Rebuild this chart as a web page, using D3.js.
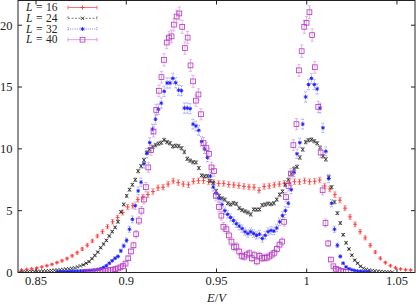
<!DOCTYPE html>
<html><head><meta charset="utf-8">
<script src="https://cdn.jsdelivr.net/npm/d3@7"></script>
<style>body{margin:0;background:#fff}svg{display:block}</style>
</head><body><svg id="c" width="416" height="305"></svg>
<script>
const xTicks = [0.85, 0.9, 0.95, 1, 1.05];
const xTickLabels = ["0.85", "0.9", "0.95", "1", "1.05"];
const yTicks = [0, 5, 10, 15, 20];
const seriesNames = ["L = 16", "L = 24", "L = 32", "L = 40"];

// L = 16
const eL16 = [0.842,0.8448,0.8476,0.8504,0.8532,0.856,0.8588,0.8616,0.8644,0.8672,0.87,0.8728,0.8756,0.8784,0.8812,0.884,0.8868,0.8896,0.8924,0.8952,0.898,0.9008,0.9036,0.9064,0.9092,0.912,0.9148,0.9176,0.9204,0.9232,0.926,0.9288,0.9316,0.9344,0.9372,0.94,0.9428,0.9456,0.9484,0.9512,0.954,0.9568,0.9596,0.9624,0.9652,0.968,0.9708,0.9736,0.9764,0.9792,0.982,0.9848,0.9876,0.9904,0.9932,0.996,0.9988,1.0016,1.0044,1.0072,1.01,1.0128,1.0156,1.0184,1.0212,1.024,1.0268,1.0296,1.0324,1.0352,1.038,1.0408,1.0436,1.0464,1.0492,1.052,1.0548,1.0576];
const vL16 = [0.2,0.25,0.3,0.37,0.45,0.55,0.66,0.8,0.95,1.12,1.35,1.6,1.9,2.2,2.55,2.95,3.3,3.7,4.1,4.45,4.85,5.3,5.4,5.9,6.1,6.3,6.55,6.85,6.9,7.15,7.4,7.27,7.15,7.1,7.38,7.42,7.43,7.35,7.28,7.2,7.2,7.12,7.08,7.03,6.97,6.92,6.9,6.65,6.95,7.0,7.08,7.15,7.22,7.27,7.35,7.33,7.42,7.35,7.38,7.48,7.0,6.75,6.3,5.85,5.2,4.5,3.9,3.3,2.8,2.2,1.65,1.15,0.8,0.55,0.38,0.28,0.22,0.2];
const errL16 = [0.04,0.04,0.05,0.05,0.06,0.06,0.07,0.08,0.09,0.1,0.1,0.11,0.12,0.13,0.14,0.15,0.16,0.17,0.18,0.18,0.2,0.2,0.2,0.2,0.22,0.22,0.22,0.22,0.22,0.22,0.22,0.22,0.22,0.22,0.22,0.22,0.22,0.22,0.22,0.22,0.22,0.22,0.22,0.22,0.22,0.22,0.22,0.22,0.22,0.22,0.22,0.22,0.22,0.22,0.22,0.22,0.22,0.22,0.22,0.22,0.22,0.22,0.22,0.21,0.2,0.2,0.19,0.18,0.17,0.15,0.13,0.11,0.09,0.08,0.06,0.05,0.05,0.04];

// shared energy grid for L = 24 and L = 32
const eGrid = [0.841,0.8426,0.8442,0.8458,0.8474,0.849,0.8506,0.8522,0.8538,0.8554,0.857,0.8586,0.8602,0.8618,0.8634,0.865,0.8666,0.8682,0.8698,0.8714,0.873,0.8746,0.8762,0.8778,0.8794,0.881,0.8826,0.8842,0.8858,0.8874,0.889,0.8906,0.8922,0.8938,0.8954,0.897,0.8986,0.9002,0.9018,0.9034,0.905,0.9066,0.9082,0.9098,0.9114,0.913,0.9146,0.9162,0.9178,0.9194,0.921,0.9226,0.9242,0.9258,0.9274,0.929,0.9306,0.9322,0.9338,0.9354,0.937,0.9386,0.9402,0.9418,0.9434,0.945,0.9466,0.9482,0.9498,0.9514,0.953,0.9546,0.9562,0.9578,0.9594,0.961,0.9626,0.9642,0.9658,0.9674,0.969,0.9706,0.9722,0.9738,0.9754,0.977,0.9786,0.9802,0.9818,0.9834,0.985,0.9866,0.9882,0.9898,0.9914,0.993,0.9946,0.9962,0.9978,0.9994,1.001,1.0026,1.0042,1.0058,1.0074,1.009,1.0106,1.0122,1.0138,1.0154,1.017,1.0186,1.0202,1.0218,1.0234,1.025,1.0266,1.0282,1.0298,1.0314,1.033,1.0346,1.0362,1.0378,1.0394,1.041,1.0426,1.0442,1.0458,1.0474];
const vL24 = [0.03,0.04,0.05,0.06,0.07,0.08,0.09,0.1,0.11,0.12,0.14,0.16,0.18,0.2,0.22,0.24,0.27,0.3,0.33,0.37,0.45,0.53,0.62,0.75,0.88,1.12,1.38,1.65,2.0,2.3,2.6,2.95,3.3,3.65,4.1,4.9,5.5,6.2,6.7,7.1,7.5,8.2,8.6,9.1,9.7,9.95,10.15,10.3,10.42,10.5,10.72,10.55,10.45,10.2,10.25,10.22,10.05,9.75,9.2,9.05,8.92,8.9,8.45,7.85,7.78,7.8,7.4,7.25,6.6,6.2,6.0,5.9,5.6,5.5,5.62,5.55,5.2,5.05,4.95,4.85,4.7,5.1,5.08,5.1,5.45,5.5,5.58,5.52,5.6,5.9,6.3,6.55,7.1,7.5,8.0,8.4,8.55,9.3,9.95,10.55,10.7,10.75,10.62,10.45,10.1,9.4,9.15,7.7,6.9,5.7,4.8,4.0,3.05,2.4,1.9,1.4,1.0,0.75,0.5,0.34,0.25,0.2,0.16,0.13,0.1,0.08,0.06,0.05,0.04,0.03];
const errL24 = [0.01,0.01,0.01,0.01,0.01,0.01,0.01,0.01,0.01,0.01,0.02,0.02,0.02,0.02,0.02,0.02,0.02,0.02,0.02,0.02,0.03,0.03,0.04,0.04,0.05,0.05,0.06,0.06,0.07,0.07,0.08,0.08,0.09,0.09,0.1,0.1,0.11,0.11,0.12,0.12,0.14,0.14,0.14,0.14,0.14,0.14,0.14,0.14,0.14,0.14,0.14,0.14,0.14,0.14,0.14,0.14,0.14,0.14,0.14,0.14,0.13,0.13,0.13,0.13,0.13,0.13,0.13,0.13,0.13,0.13,0.13,0.13,0.13,0.13,0.13,0.13,0.13,0.13,0.13,0.13,0.13,0.13,0.13,0.13,0.13,0.13,0.13,0.13,0.13,0.13,0.14,0.14,0.14,0.14,0.14,0.14,0.14,0.14,0.14,0.14,0.14,0.14,0.14,0.14,0.14,0.14,0.14,0.14,0.14,0.14,0.12,0.11,0.1,0.09,0.08,0.07,0.06,0.05,0.04,0.03,0.02,0.02,0.02,0.02,0.02,0.01,0.01,0.01,0.01,0.01];
const vL32 = [null,null,null,null,null,null,null,null,null,null,null,null,null,0.04,0.05,0.06,0.07,0.08,0.09,0.1,0.11,0.12,0.13,0.15,0.17,0.19,0.21,0.24,0.3,0.4,0.55,0.75,0.95,1.15,1.3,1.75,2.15,2.6,3.5,4.3,5.4,6.6,7.3,8.8,9.65,10.5,11.6,12.4,13.2,13.7,14.65,15.33,15.33,15.7,15.35,14.75,14.7,13.3,13.3,13.25,12.0,11.85,11.5,10.6,10.0,9.3,7.8,6.9,6.4,6.0,5.5,5.0,4.7,4.45,4.2,3.95,3.75,3.55,3.3,3.15,3.3,3.15,3.0,3.1,2.75,3.0,3.3,3.4,3.35,3.6,4.1,4.6,5.0,5.6,6.7,8.1,9.6,10.5,12.0,14.2,15.2,15.7,15.2,14.85,13.3,11.7,9.8,7.6,5.6,3.5,2.2,1.3,0.75,0.45,0.3,0.22,0.16,0.12,0.09,0.07,0.05,0.04,null,null,null,null,null,null,null,null];
const errL32 = [0,0,0,0,0,0,0,0,0,0,0,0,0,0.02,0.02,0.02,0.02,0.02,0.02,0.02,0.02,0.02,0.02,0.02,0.02,0.02,0.02,0.02,0.03,0.04,0.05,0.06,0.08,0.1,0.12,0.14,0.16,0.2,0.25,0.28,0.3,0.32,0.34,0.36,0.38,0.4,0.4,0.42,0.42,0.42,0.42,0.42,0.42,0.42,0.42,0.42,0.42,0.42,0.42,0.42,0.4,0.4,0.4,0.38,0.38,0.36,0.34,0.32,0.32,0.3,0.3,0.3,0.3,0.3,0.3,0.3,0.3,0.3,0.3,0.3,0.3,0.3,0.3,0.3,0.3,0.3,0.3,0.3,0.3,0.3,0.3,0.32,0.32,0.34,0.34,0.36,0.38,0.38,0.4,0.42,0.42,0.42,0.42,0.42,0.4,0.38,0.36,0.34,0.3,0.25,0.18,0.12,0.08,0.05,0.04,0.03,0.02,0.02,0.02,0.02,0.02,0.02,0,0,0,0,0,0,0,0];

// L = 40
const eL40 = [0.8766,0.8782,0.8799,0.8813,0.8827,0.884,0.8854,0.8869,0.8884,0.8899,0.8912,0.8926,0.894,0.8954,0.8968,0.8982,0.8996,0.9011,0.9026,0.904,0.9055,0.907,0.9084,0.9098,0.9109,0.9122,0.9137,0.9151,0.9166,0.9181,0.9195,0.9209,0.9224,0.9237,0.9251,0.9264,0.9279,0.9294,0.931,0.9325,0.934,0.9356,0.937,0.9386,0.94,0.9414,0.9428,0.9444,0.9458,0.9472,0.9486,0.9497,0.9514,0.9527,0.9538,0.9555,0.9569,0.9583,0.9597,0.961,0.9626,0.9639,0.9654,0.9669,0.9683,0.9696,0.971,0.9724,0.9738,0.9752,0.9766,0.9779,0.9793,0.9807,0.9821,0.9835,0.9849,0.9864,0.9875,0.9885,0.9899,0.9912,0.9926,0.9943,0.9957,0.9972,0.9986,0.9999,1.0015,1.003,1.0045,1.0064,1.0077,1.0088,1.0104,1.0119,1.0134,1.0148,1.0162,1.0176,1.0189,1.0203,1.0217];
const vL40 = [0.02,0.03,0.04,0.05,0.06,0.07,0.09,0.11,0.14,0.17,0.2,0.23,0.27,0.33,0.42,0.52,0.72,1.15,1.7,2.2,3.1,4.2,5.0,5.9,6.9,8.5,9.9,11.4,13.15,14.7,15.8,17.2,18.6,19.0,19.1,20.05,20.7,20.95,19.87,18.15,19.0,16.75,15.46,13.9,14.4,12.8,10.47,10.06,9.6,8.5,8.2,6.2,5.3,4.6,3.7,3.5,3.0,2.5,2.05,2.1,1.7,1.35,1.28,1.45,1.55,1.15,1.4,0.9,1.35,1.15,1.2,1.2,1.3,1.45,1.6,1.9,2.25,2.5,4.1,6.1,7.0,8.0,10.3,12.0,16.35,17.9,19.87,20.2,21.05,19.2,16.6,13.4,9.7,6.65,4.0,2.35,1.05,0.5,0.3,0.2,0.13,0.08,0.05];
const errL40 = [0.02,0.02,0.02,0.02,0.03,0.03,0.03,0.04,0.04,0.05,0.05,0.06,0.06,0.07,0.08,0.09,0.1,0.15,0.2,0.25,0.3,0.32,0.34,0.36,0.38,0.4,0.42,0.44,0.45,0.46,0.48,0.5,0.5,0.52,0.52,0.52,0.52,0.52,0.52,0.5,0.5,0.48,0.48,0.46,0.46,0.45,0.45,0.45,0.44,0.42,0.42,0.4,0.38,0.36,0.35,0.35,0.34,0.32,0.3,0.3,0.28,0.28,0.28,0.28,0.28,0.28,0.28,0.28,0.28,0.28,0.28,0.28,0.28,0.28,0.28,0.28,0.28,0.3,0.35,0.38,0.4,0.42,0.44,0.45,0.48,0.5,0.52,0.52,0.52,0.5,0.48,0.46,0.44,0.38,0.32,0.25,0.15,0.08,0.05,0.04,0.03,0.02,0.02];

const plot = {left: 18, right: 415, top: 0.5, bottom: 272.5};
const x = d3.scaleLinear().domain([0.84, 1.06]).range([plot.left, plot.right]);
const y = d3.scaleLinear().domain([0, 22]).range([plot.bottom, plot.top]);
const svg = d3.select("#c");
const font = "'Liberation Serif', 'DejaVu Serif', serif";

const mk = (e, v, er) => e.map((d, i) => ({e: d, v: v[i], err: er[i]})).filter(d => d.v != null);
const series = [
  {name: seriesNames[0], data: mk(eL16, vL16, errL16), color: "#ff2a2a", bar: "#ff5050", dash: null, marker: "plus"},
  {name: seriesNames[1], data: mk(eGrid, vL24, errL24), color: "#1a1a1a", bar: "#555555", dash: "2,1.5", marker: "cross"},
  {name: seriesNames[2], data: mk(eGrid, vL32, errL32), color: "#1818ff", bar: "#6262ff", dash: "1,1.2", marker: "star"},
  {name: seriesNames[3], data: mk(eL40, vL40, errL40), color: "#b535c0", bar: "#d585dc", dash: null, marker: "square"}
];

function drawMarker(g, type, color) {
  if (type === "plus") {
    g.append("path").attr("d", "M-2,0H2M0,-2V2").attr("stroke", color).attr("stroke-width", 0.8).attr("fill", "none");
  } else if (type === "cross") {
    g.append("path").attr("d", "M-1.7,-1.7L1.7,1.7M-1.7,1.7L1.7,-1.7").attr("stroke", color).attr("stroke-width", 0.8).attr("fill", "none");
  } else if (type === "star") {
    g.append("path").attr("d", "M-1.9,0H1.9M0,-1.9V1.9M-1.4,-1.4L1.4,1.4M-1.4,1.4L1.4,-1.4").attr("stroke", color).attr("stroke-width", 0.9).attr("fill", "none");
  } else {
    g.append("rect").attr("x", -2.4).attr("y", -2.4).attr("width", 4.8).attr("height", 4.8)
      .attr("stroke", color).attr("stroke-width", 0.8).attr("fill", "none");
  }
}

svg.append("defs").append("clipPath").attr("id", "pc").append("rect")
  .attr("x", plot.left).attr("y", 0).attr("width", plot.right - plot.left).attr("height", plot.bottom);
const dataG = svg.append("g").attr("clip-path", "url(#pc)");

series.forEach(s => {
  const g = dataG.append("g");
  s.data.forEach(d => {
    const cx = x(d.e), cy = y(d.v);
    if (d.err > 0.03) {
      const y1 = y(d.v - d.err), y2 = y(d.v + d.err);
      g.append("path")
        .attr("d", `M${cx},${y1}V${y2}M${cx-1.6},${y1}H${cx+1.6}M${cx-1.6},${y2}H${cx+1.6}`)
        .attr("stroke", s.bar).attr("stroke-width", 0.6).attr("fill", "none")
        .attr("stroke-dasharray", s.marker === "star" ? "1,0.8" : null);
    }
    const mg = g.append("g").attr("transform", `translate(${cx},${cy})`);
    drawMarker(mg, s.marker, s.color);
  });
});

// frame
svg.append("rect").attr("x", plot.left).attr("y", plot.top).attr("width", plot.right - plot.left)
  .attr("height", plot.bottom - plot.top).attr("fill", "none").attr("stroke", "#222").attr("stroke-width", 1);

// ticks and labels
const tickG = svg.append("g").attr("stroke", "#222").attr("stroke-width", 1);
xTicks.forEach((t, i) => {
  const px = x(t);
  tickG.append("line").attr("x1", px).attr("x2", px).attr("y1", plot.bottom).attr("y2", plot.bottom - 4);
  tickG.append("line").attr("x1", px).attr("x2", px).attr("y1", plot.top).attr("y2", plot.top + 4);
  svg.append("text").attr("x", px).attr("y", 285).attr("text-anchor", "middle")
    .attr("font-family", font).attr("font-size", 12.5).attr("fill", "#222").text(xTickLabels[i]);
});
yTicks.forEach(t => {
  const py = y(t);
  tickG.append("line").attr("x1", plot.left).attr("x2", plot.left + 4).attr("y1", py).attr("y2", py);
  tickG.append("line").attr("x1", plot.right).attr("x2", plot.right - 4).attr("y1", py).attr("y2", py);
  svg.append("text").attr("x", 12.5).attr("y", py + 4.3).attr("text-anchor", "end")
    .attr("font-family", font).attr("font-size", 12.5).attr("fill", "#222").text(String(t));
});

// axis title E/V
const xt = svg.append("text").attr("x", 216.5).attr("y", 301.5).attr("text-anchor", "middle")
  .attr("font-family", font).attr("font-size", 12.5).attr("fill", "#222");
xt.append("tspan").attr("font-style", "italic").text("E");
xt.append("tspan").text("/");
xt.append("tspan").attr("font-style", "italic").text("V");

// legend
const legY = [7.5, 18.3, 29, 39.7];
series.forEach((s, i) => {
  const ly = legY[i];
  const parts = s.name.split(" ");
  const t = svg.append("text").attr("x", 26).attr("y", ly + 3.6)
    .attr("font-family", font).attr("font-size", 11.5).attr("fill", "#222");
  t.append("tspan").attr("font-style", "italic").text(parts[0]);
  t.append("tspan").attr("dx", 3.5).text(parts[1]);
  t.append("tspan").attr("dx", 3.5).text(parts[2]);
  const lg = svg.append("g");
  lg.append("path").attr("d", `M68,${ly}H97M68,${ly-2}V${ly+2}M97,${ly-2}V${ly+2}`)
    .attr("stroke", s.bar).attr("stroke-width", 0.8).attr("fill", "none")
    .attr("stroke-dasharray", s.dash);
  const mg = lg.append("g").attr("transform", `translate(82.5,${ly})`);
  drawMarker(mg, s.marker, s.color);
});
</script></body></html>
